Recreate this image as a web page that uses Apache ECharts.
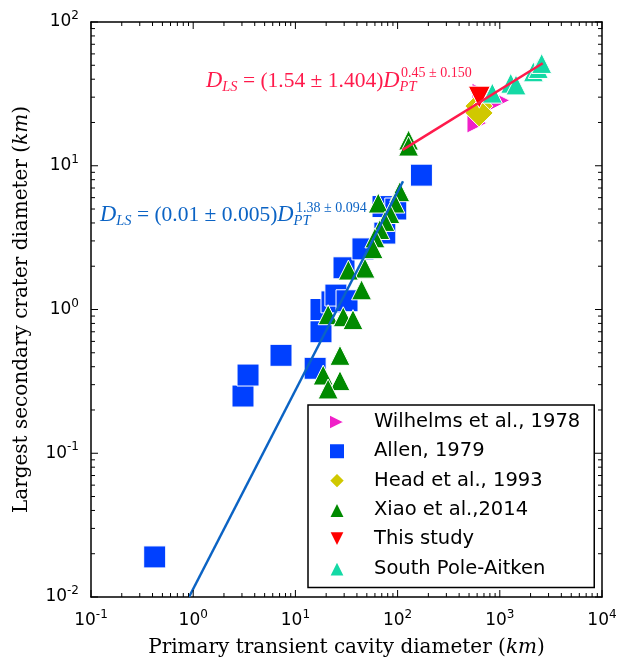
<!DOCTYPE html>
<html>
<head>
<meta charset="utf-8">
<script src="https://cdn.jsdelivr.net/npm/echarts@6/dist/echarts.min.js"></script>
<style>
html, body { margin: 0; padding: 0; background: #fff; }
#chart { width: 620px; height: 662px; }
</style>
</head>
<body>
<div id="chart"></div>
<script>
// values: [transient cavity diameter, largest secondary diameter] in km
var wilhelms = [[598, 19.8], [670, 32], [1000, 28.5]];
var allen = [[0.42, 0.019], [3.07, 0.25], [3.44, 0.35], [7.23, 0.48], [15.6, 0.39],
  [17.8, 0.70], [17.8, 1.0], [22.8, 1.13], [24.9, 1.26], [32, 1.15], [29.9, 1.95],
  [45.8, 2.64], [75, 3.4], [72, 5.2], [96, 5.0], [171, 8.6]];
var head = [[625, 26], [627, 23.3]];
var xiao = [[128, 15.1], [128, 13.7], [105, 6.6], [94, 5.5], [64.7, 5.5], [84, 4.65],
  [75, 4.1], [67, 3.6], [60, 3.15], [57.5, 2.65], [48, 1.94], [33, 1.88], [44.4, 1.37],
  [20.9, 0.92], [29.4, 0.89], [36.6, 0.85], [27.3, 0.48], [18.7, 0.35], [27.3, 0.32],
  [20.9, 0.28]];
var thisStudy = [[630, 30]];
var spa = [[845, 32], [1280, 37.5], [1440, 36.5], [2130, 45], [2380, 47.5], [2570, 51.5]];
var blueFit = [[0.91, 0.01], [113, 7.8]];
var redFit = [[112, 12.9], [2630, 51.6]];

var xTicks = [0.1, 1, 10, 100, 1000, 10000];
var yTicks = [0.01, 0.1, 1, 10, 100];

function minorValues(lo, hi) {
  var out = [];
  for (var d = lo; d < hi; d *= 10) {
    for (var k = 2; k < 10; k++) out.push(+(d * k).toPrecision(3));
  }
  return out;
}
var xMinor = minorValues(0.1, 10000);
var yMinor = minorValues(0.01, 100);

var blueC = '#0b63c4';
var redC = '#ff1a4b';

function expLabel(v) {
  var e = Math.round(Math.log10(v));
  return '{b|10}{s|' + e + '}';
}
var labelRich = {
  b: { fontFamily: 'DejaVu Sans', fontSize: 17, color: '#000', verticalAlign: 'middle' },
  s: { fontFamily: 'DejaVu Sans', fontSize: 12, color: '#000', verticalAlign: 'middle', padding: [0, 0, 12, 0] }
};

function mkAxis(pos, min, max, ticks, label, extra) {
  var a = {
    type: 'log', logBase: 10, min: min, max: max, position: pos,
    axisLine: { show: true, onZero: false, lineStyle: { color: '#000', width: 1.5 } },
    axisTick: { show: false },
    axisLabel: { show: label, customValues: ticks, formatter: expLabel, rich: labelRich, margin: 12 },
    splitLine: { show: false },
    minorTick: { show: false }
  };
  for (var k in extra) a[k] = extra[k];
  return a;
}

var titleRich = {
  it: { fontFamily: 'DejaVu Serif', fontStyle: 'italic', fontSize: 20, color: '#000' }
};

// tick marks on all four sides, placed through the axes' own scales
function renderTicks(params, api) {
  var cs = params.coordSys;
  var top = cs.y, bottom = cs.y + cs.height, left = cs.x, right = cs.x + cs.width;
  var kids = [];
  function seg(x1, y1, x2, y2) {
    kids.push({ type: 'line', shape: { x1: x1, y1: y1, x2: x2, y2: y2 },
      style: { stroke: '#000', lineWidth: 1 } });
  }
  function xt(vals, len) {
    vals.forEach(function (v) {
      var px = api.coord([v, 1])[0];
      seg(px, bottom, px, bottom - len);
      seg(px, top, px, top + len);
    });
  }
  function yt(vals, len) {
    vals.forEach(function (v) {
      var py = api.coord([1, v])[1];
      seg(left, py, left + len, py);
      seg(right, py, right - len, py);
    });
  }
  xt(xTicks, 7); xt(xMinor, 4);
  yt(yTicks, 7); yt(yMinor, 4);
  return { type: 'group', children: kids };
}

var ptStyle = function (c) {
  return { color: c, borderColor: '#fff', borderWidth: 1, opacity: 1 };
};

var chart = echarts.init(document.getElementById('chart'));
chart.setOption({
  animation: false,
  backgroundColor: '#fff',
  grid: { left: 91, right: 18, top: 22, bottom: 65, outerBoundsMode: 'none' },
  xAxis: [
    mkAxis('bottom', 0.1, 10000, xTicks, true, {
      name: 'Primary transient cavity diameter ({it|km})',
      nameLocation: 'middle', nameGap: 41,
      nameTextStyle: { fontFamily: 'DejaVu Serif', fontSize: 20, color: '#000', rich: titleRich }
    }),
    mkAxis('top', 0.1, 10000, xTicks, false, {})
  ],
  yAxis: [
    mkAxis('left', 0.01, 100, yTicks, true, {
      name: 'Largest secondary crater diameter ({it|km})',
      nameLocation: 'middle', nameGap: 59,
      nameTextStyle: { fontFamily: 'DejaVu Serif', fontSize: 20, color: '#000', rich: titleRich }
    }),
    mkAxis('right', 0.01, 100, yTicks, false, {})
  ],
  legend: {
    orient: 'vertical',
    left: 308, top: 405,
    padding: [7, 14, 9, 20],
    itemGap: 9.3,
    itemWidth: 16, itemHeight: 16,
    backgroundColor: '#fff',
    borderColor: '#000', borderWidth: 1.5, borderRadius: 0,
    textStyle: { fontFamily: 'DejaVu Sans', fontSize: 19.5, color: '#000', lineHeight: 20, padding: [0, 0, 0, 24] },
    data: ['Wilhelms et al., 1978', 'Allen, 1979', 'Head et al., 1993', 'Xiao et al.,2014', 'This study', 'South Pole-Aitken'],
    z: 10
  },
  series: [
    { name: 'Wilhelms et al., 1978', type: 'scatter', data: wilhelms,
      symbol: 'path://M0,0 L10,5 L0,10 Z', symbolSize: 20, itemStyle: ptStyle('#f020c8') },
    { name: 'Allen, 1979', type: 'scatter', data: allen,
      symbol: 'rect', symbolSize: 22, itemStyle: ptStyle('#0040ff') },
    { name: 'Head et al., 1993', type: 'scatter', data: head,
      symbol: 'diamond', symbolSize: 28, itemStyle: ptStyle('#d0c800') },
    { name: 'Xiao et al.,2014', type: 'scatter', data: xiao,
      symbol: 'triangle', symbolSize: 20, itemStyle: ptStyle('#008a00') },
    { name: 'This study', type: 'scatter', data: thisStudy,
      symbol: 'path://M0,0 L10,0 L5,10 Z', symbolSize: 22, itemStyle: ptStyle('#ff0000') },
    { name: 'South Pole-Aitken', type: 'scatter', data: spa,
      symbol: 'triangle', symbolSize: 20, itemStyle: ptStyle('#14d9a5') },
    { name: 'fitBlue', type: 'line', data: blueFit, symbol: 'none', z: 5,
      lineStyle: { color: blueC, width: 2.5 } },
    { name: 'fitRed', type: 'line', data: redFit, symbol: 'none', z: 5,
      lineStyle: { color: redC, width: 2.5 } },
    { name: 'ticks', type: 'custom', data: [[1, 1]], renderItem: renderTicks,
      silent: true, clip: false, z: 6 }
  ],
  graphic: [
    { type: 'text', x: 100, y: 215, z: 20, style: {
      text: '{i|D}{s|LS}{n| = (0.01 ± 0.005)}{i|D}{s|PT}',
      verticalAlign: 'middle', fill: blueC,
      rich: {
        i: { fontFamily: 'Liberation Serif', fontStyle: 'italic', fontSize: 22.5, fill: blueC, verticalAlign: 'middle' },
        n: { fontFamily: 'Liberation Serif', fontSize: 21.5, fill: blueC, verticalAlign: 'middle' },
        s: { fontFamily: 'Liberation Serif', fontStyle: 'italic', fontSize: 14.5, fill: blueC, verticalAlign: 'middle', padding: [13, 0, 0, 0] }
      } } },
    { type: 'text', x: 296, y: 208, z: 20, style: {
      text: '1.38 ± 0.094', verticalAlign: 'middle', fill: blueC,
      font: '14px "Liberation Serif"' } },
    { type: 'text', x: 206, y: 81, z: 20, style: {
      text: '{i|D}{s|LS}{n| = (1.54 ± 1.404)}{i|D}{s|PT}',
      verticalAlign: 'middle', fill: redC,
      rich: {
        i: { fontFamily: 'Liberation Serif', fontStyle: 'italic', fontSize: 22.5, fill: redC, verticalAlign: 'middle' },
        n: { fontFamily: 'Liberation Serif', fontSize: 21.5, fill: redC, verticalAlign: 'middle' },
        s: { fontFamily: 'Liberation Serif', fontStyle: 'italic', fontSize: 14.5, fill: redC, verticalAlign: 'middle', padding: [13, 0, 0, 0] }
      } } },
    { type: 'text', x: 401, y: 73, z: 20, style: {
      text: '0.45 ± 0.150', verticalAlign: 'middle', fill: redC,
      font: '14px "Liberation Serif"' } }
  ]
});
</script>
</body>
</html>
